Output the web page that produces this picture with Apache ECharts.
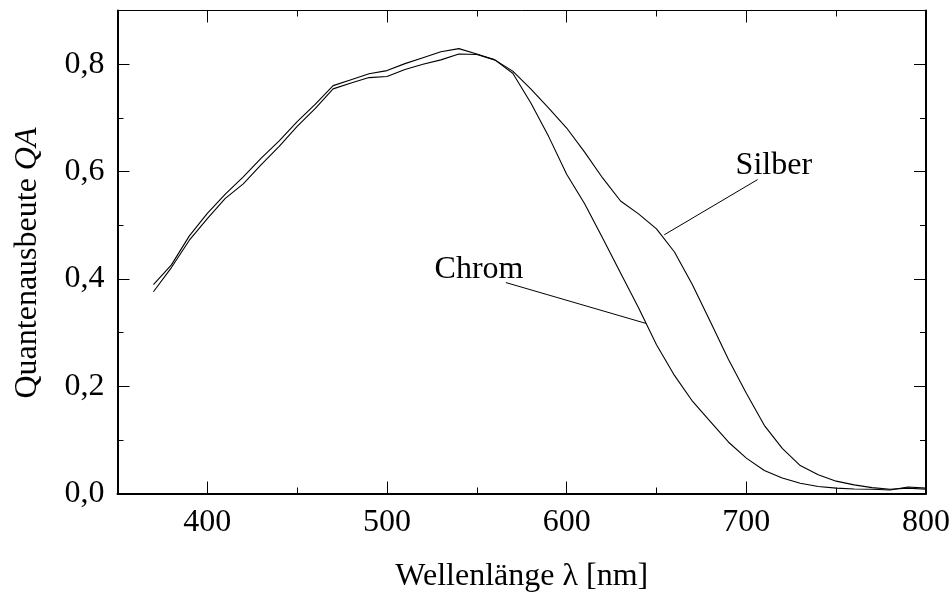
<!DOCTYPE html>
<html>
<head>
<meta charset="utf-8">
<script src="https://cdn.jsdelivr.net/npm/echarts@6/dist/echarts.min.js"></script>
<style>
  html, body { margin: 0; padding: 0; background: #fff; }
  #chart { width: 952px; height: 592px; }
</style>
</head>
<body>
<div id="chart"></div>
<script>
// wavelength in nm
var wavelengths = [370, 380, 390, 400, 410, 420, 430, 440, 450, 460,
                   470, 480, 490, 500, 510, 520, 530, 540, 550, 560,
                   570, 580, 590, 600, 610, 620, 630, 640, 650, 660,
                   670, 680, 690, 700, 710, 720, 730, 740, 750, 760,
                   770, 780, 790, 800];

var silber = [0.389, 0.426, 0.480, 0.522, 0.558, 0.590, 0.625, 0.657, 0.693, 0.725,
              0.760, 0.771, 0.782, 0.788, 0.801, 0.812, 0.823, 0.829, 0.819, 0.808,
              0.787, 0.754, 0.718, 0.681, 0.636, 0.588, 0.545, 0.521, 0.493, 0.450,
              0.389, 0.320, 0.250, 0.187, 0.127, 0.084, 0.052, 0.035, 0.023, 0.016,
              0.011, 0.008, 0.010, 0.008];

var chrom = [0.376, 0.421, 0.472, 0.512, 0.550, 0.577, 0.613, 0.647, 0.684, 0.717,
             0.754, 0.765, 0.775, 0.777, 0.790, 0.800, 0.808, 0.819, 0.818, 0.808,
             0.783, 0.728, 0.665, 0.595, 0.540, 0.476, 0.411, 0.346, 0.277, 0.220,
             0.172, 0.134, 0.096, 0.066, 0.043, 0.029, 0.019, 0.013, 0.010, 0.0085,
             0.008, 0.0065, 0.012, 0.010];

// tick values
var xMajor = [400, 500, 600, 700, 800];
var xMinor = [450, 550, 650, 750];
var yMajor = [0, 0.2, 0.4, 0.6, 0.8];
var yMinor = [0.1, 0.3, 0.5, 0.7];

// annotations (data units): text anchor, leader line from / to
var silberNote = { text: 'Silber', at: [715.3, 0.611], from: [706.3, 0.585], to: [654.3, 0.482] };
var chromNote = { text: 'Chrom', at: [551.2, 0.417], from: [566.2, 0.393], to: [644.1, 0.317] };

var font = '"Liberation Serif", "DejaVu Serif", serif';
var black = '#000';

function pairs(xs, ys) {
    return xs.map(function(x, i) { return [x, ys[i]]; });
}

function comma(v) {
    return v.toFixed(1).replace('.', ',');
}

function makeAxis(pos, min, max, ticks, tickLen, lineWidth, extra) {
    return Object.assign({
        type: 'value',
        position: pos,
        min: min,
        max: max,
        splitLine: { show: false },
        axisLine: { show: lineWidth > 0, onZero: false, lineStyle: { color: black, width: lineWidth } },
        axisTick: { show: true, inside: true, length: tickLen, customValues: ticks,
                    lineStyle: { color: black, width: 1 } },
        axisLabel: { show: false }
    }, extra || {});
}

function note(n) {
    return {
        markLine: {
            silent: true,
            symbol: 'none',
            animation: false,
            label: { show: false },
            lineStyle: { color: black, width: 1, type: 'solid' },
            data: [[{ coord: n.from }, { coord: n.to }]]
        },
        markPoint: {
            silent: true,
            symbol: 'circle',
            symbolSize: 0,
            animation: false,
            label: { show: true, position: 'inside', formatter: n.text,
                     color: black, fontSize: 32, fontFamily: font },
            data: [{ coord: n.at }]
        }
    };
}

var labelStyle = { color: black, fontSize: 32, fontFamily: font };

var option = {
    animation: false,
    backgroundColor: '#fff',
    grid: { left: 117.5, right: 26, top: 10.5, bottom: 98.5, containLabel: false, outerBoundsMode: 'none' },
    xAxis: [
        makeAxis('bottom', 350, 800, xMajor, 12, 2, {
            axisLabel: Object.assign({ show: true, margin: 13, customValues: xMajor }, labelStyle),
            name: 'Wellenlänge λ [nm]',
            nameLocation: 'middle',
            nameGap: 67,
            nameTextStyle: labelStyle
        }),
        makeAxis('bottom', 350, 800, xMinor, 6, 0),
        makeAxis('top', 350, 800, xMajor, 12, 1),
        makeAxis('top', 350, 800, xMinor, 6, 0)
    ],
    yAxis: [
        makeAxis('left', 0, 0.9, yMajor, 12, 2, {
            axisLabel: Object.assign({ show: true, margin: 13, customValues: yMajor, formatter: comma }, labelStyle),
            name: 'Quantenausbeute {i|QA}',
            nameLocation: 'middle',
            nameGap: 74,
            nameTextStyle: Object.assign({
                padding: [0, 22, 0, 0],
                rich: { i: { fontStyle: 'italic', fontSize: 32, fontFamily: font, color: black } }
            }, labelStyle)
        }),
        makeAxis('left', 0, 0.9, yMinor, 6, 0),
        makeAxis('right', 0, 0.9, yMajor, 12, 2),
        makeAxis('right', 0, 0.9, yMinor, 6, 0)
    ],
    series: [
        Object.assign({
            name: 'Silber',
            type: 'line',
            data: pairs(wavelengths, silber),
            showSymbol: false,
            symbol: 'none',
            lineStyle: { color: black, width: 1.1 },
            itemStyle: { color: black }
        }, note(silberNote)),
        Object.assign({
            name: 'Chrom',
            type: 'line',
            data: pairs(wavelengths, chrom),
            showSymbol: false,
            symbol: 'none',
            lineStyle: { color: black, width: 1.1 },
            itemStyle: { color: black }
        }, note(chromNote))
    ]
};

var chart = echarts.init(document.getElementById('chart'), null, { renderer: 'canvas' });
chart.setOption(option);
</script>
</body>
</html>
